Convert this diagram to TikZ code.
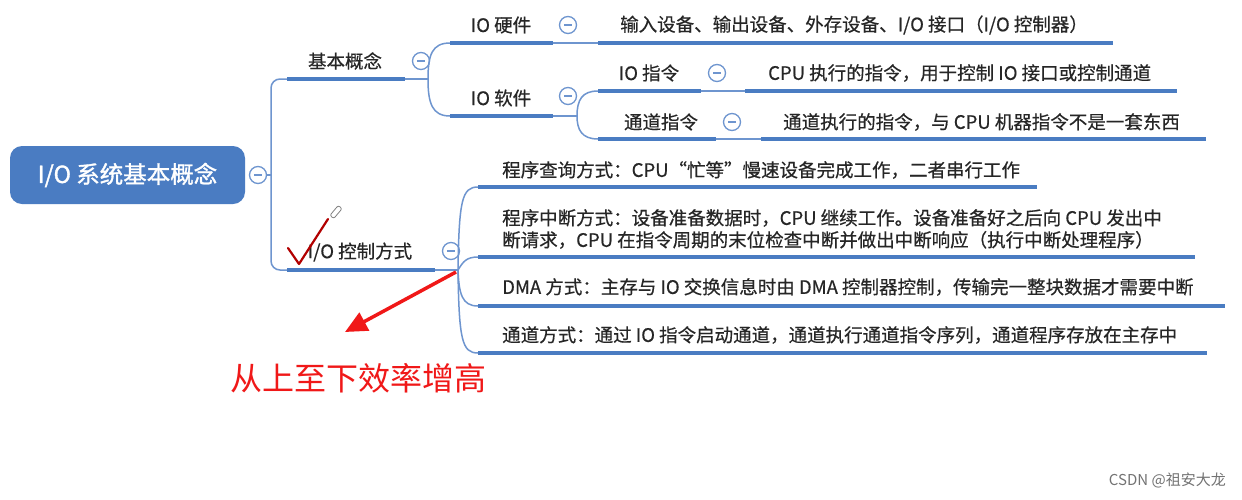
\documentclass[tikz,border=0pt]{standalone}
\usepackage{fontspec}
\setmainfont{Noto Sans CJK SC}
\newfontfamily\mapfont{Noto Sans CJK SC}[FakeBold=0.5]
\newfontfamily\rootfont{Noto Sans CJK SC}[FakeBold=1.4]
\usetikzlibrary{arrows.meta}
\definecolor{mapblue}{HTML}{4A7CC2}
\definecolor{linkblue}{HTML}{6E95CF}
\definecolor{markred}{HTML}{F01818}
\tikzset{
	topic/.style = {inner sep=0pt, text=black!85, font=\mapfont\fontsize{18.5}{22}\selectfont},
	fold/.style = {circle, draw=linkblue, line width=1.3pt, fill=white, minimum size=17pt, inner sep=0pt,
		path picture={\draw[linkblue, line width=1.3pt]
			([xshift=-4pt]path picture bounding box.center) -- ([xshift=4pt]path picture bounding box.center);}},
	uline/.style = {mapblue, line width=4pt},
	link/.style = {linkblue, line width=1.5pt}
}

\begin{document}
\begin{tikzpicture}[x=1pt, y=-1pt]
	\useasboundingbox[fill=white] (0,0) rectangle (1242,499);
	% root
	\node[fill=mapblue, rounded corners=12pt, minimum width=235pt, minimum height=58pt,
		text=white, font=\rootfont\fontsize{23.5}{26}\selectfont] (root) at (127.5,175) {I/O 系统基本概念};
	\node[fold] (f0) at (258,175) {};
	\coordinate (j0) at (271,175);
	\draw[link] (f0.east) -- (j0);
	% first level
	\coordinate (k1) at (287,79);
	\coordinate (k1e) at (405,79);
	\coordinate (j1) at (428,79);
	\coordinate (k6) at (287,270);
	\coordinate (k6e) at (435,270);
	\coordinate (j6) at (458,270);
	\draw[link, rounded corners=9pt] (k1) -| (j0) |- (k6);
	\draw[uline] (k1) -- (k1e);
	\draw[link] (k1e) -- (j1);
	\draw[uline] (k6) -- (k6e);
	\draw[link] (k6e) -- (j6);
	\node[topic, anchor = center] (basic) at (345,61) {基本概念};
	\node[fold] (f1) at (421,61) {};
	\node[topic, anchor = center] (ctrl) at (360,252) {I/O 控制方式};
	\node[fold] (f6) at (451,251) {};
	% IO hardware / software
	\coordinate (k2) at (450,43);
	\coordinate (k2e) at (553,43);
	\coordinate (l2) at (598,43);
	\coordinate (l2e) at (1113,43);
	\coordinate (k3) at (450,116);
	\coordinate (k3e) at (553,116);
	\coordinate (j3) at (577,116);
	\draw[link] (j1) .. controls (428,55) and (432,43) .. (k2);
	\draw[link] (j1) .. controls (428,103) and (432,116) .. (k3);
	\draw[uline] (k2) -- (k2e);
	\draw[link] (k2e) -- (l2);
	\draw[uline] (l2) -- (l2e);
	\draw[uline] (k3) -- (k3e);
	\draw[link] (k3e) -- (j3);
	\node[topic, anchor = center] (hw) at (501,25) {IO 硬件};
	\node[fold] (f2) at (568,25) {};
	\node[topic, anchor = west] (hwleaf) at (620,25) {输入设备、输出设备、外存设备、I/O 接口（I/O 控制器）};
	\node[topic, anchor = center] (sw) at (501,98) {IO 软件};
	\node[fold] (f3) at (568,96) {};
	% instructions
	\coordinate (k4) at (598,91);
	\coordinate (k4e) at (701,91);
	\coordinate (l4) at (745,91);
	\coordinate (l4e) at (1177,91);
	\coordinate (k5) at (598,139);
	\coordinate (k5e) at (716,139);
	\coordinate (l5) at (761,139);
	\coordinate (l5e) at (1206,139);
	\draw[link] (j3) .. controls (577,100) and (582,91) .. (k4);
	\draw[link] (j3) .. controls (577,130) and (582,139) .. (k5);
	\draw[uline] (k4) -- (k4e);
	\draw[link] (k4e) -- (l4);
	\draw[uline] (l4) -- (l4e);
	\draw[uline] (k5) -- (k5e);
	\draw[link] (k5e) -- (l5);
	\draw[uline] (l5) -- (l5e);
	\node[topic, anchor = center] (ioins) at (649,73) {IO 指令};
	\node[fold] (f4) at (717,73) {};
	\node[topic, anchor = west] (ioleaf) at (768,73) {CPU 执行的指令，用于控制 IO 接口或控制通道};
	\node[topic, anchor = center] (chins) at (661,122) {通道指令};
	\node[fold] (f5) at (732,122) {};
	\node[topic, anchor = west] (chleaf) at (783,122) {通道执行的指令，与 CPU 机器指令不是一套东西};
	% control modes
	\coordinate (m1) at (478,187);
	\coordinate (m1e) at (1037,187);
	\coordinate (m2) at (478,257);
	\coordinate (m2e) at (1195,257);
	\coordinate (m3) at (478,306);
	\coordinate (m3e) at (1225,306);
	\coordinate (m4) at (478,353);
	\coordinate (m4e) at (1207,353);
	\draw[link] (j6) .. controls (459,200) and (462,187) .. (m1);
	\draw[link] (j6) .. controls (463,262) and (466,257) .. (m2);
	\draw[link] (j6) .. controls (459,294) and (462,306) .. (m3);
	\draw[link] (j6) .. controls (459,340) and (462,353) .. (m4);
	\draw[uline] (m1) -- (m1e);
	\draw[uline] (m2) -- (m2e);
	\draw[uline] (m3) -- (m3e);
	\draw[uline] (m4) -- (m4e);
	\node[topic, anchor = west] (poll) at (502,170) {程序查询方式：CPU“忙等”慢速设备完成工作，二者串行工作};
	\node[topic, anchor = west, align=left] (intr) at (502,229)
		{程序中断方式：设备准备数据时，CPU 继续工作。设备准备好之后向 CPU 发出中\\
		断请求，CPU 在指令周期的末位检查中断并做出中断响应（执行中断处理程序）};
	\node[topic, anchor = west] (dma) at (502,287) {DMA 方式：主存与 IO 交换信息时由 DMA 控制器控制，传输完一整块数据才需要中断};
	\node[topic, anchor = west] (chan) at (502,335) {通道方式：通过 IO 指令启动通道，通道执行通道指令序列，通道程序存放在主存中};
	% red marks
	\coordinate (atail) at (456,272);
	\coordinate (ahead) at (345,332);
	\draw[markred, line width=3.5pt, -{Triangle[length=22pt, width=20pt]}] (atail) -- (ahead);
	\node[inner sep=0pt, text=markred, font=\fontsize{32}{36}\selectfont] (eff) at (358,378) {从上至下效率增高};
	\draw[red!70!black, line width=2.2pt, line cap=round, line join=round] (288,248) -- (299,264) -- (328,219);
	\node[draw=gray, line width=0.8pt, rotate=50, minimum width=13pt, minimum height=5pt,
		inner sep=0pt, rounded corners=2pt] (pen) at (336,212) {};
	\node[inner sep=0pt, text=black!55, font=\fontsize{15}{17}\selectfont, anchor = east] (mark) at (1226,480) {CSDN @祖安大龙};
\end{tikzpicture}
\end{document}
